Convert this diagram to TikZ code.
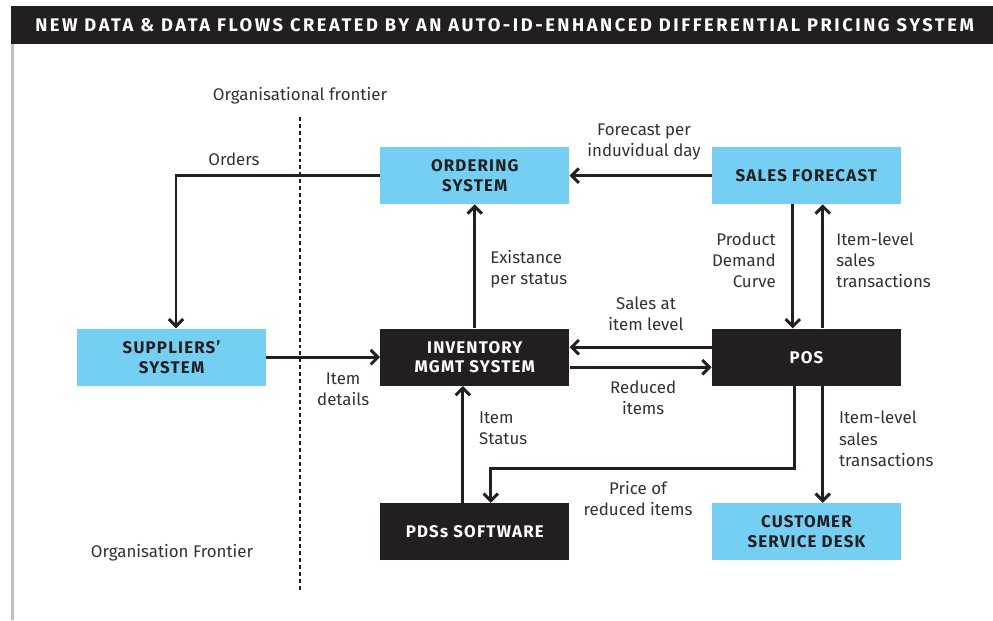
\documentclass[tikz,border=0pt]{standalone}
\usepackage{fontspec}
\setmainfont{Fira Sans}
\newfontfamily\cajafont[LetterSpace=7]{Fira Sans}
\newfontfamily\titulofont[LetterSpace=14]{Fira Sans}
\usetikzlibrary{positioning,arrows.meta,calc}
\definecolor{celeste}{RGB}{116,207,243}
\definecolor{negro}{RGB}{35,31,32}
\definecolor{gristexto}{RGB}{51,48,49}
\definecolor{gris}{RGB}{192,192,192}

\begin{document}
\begin{tikzpicture}[
  caja/.style={fill=#1, minimum width=4.725cm, minimum height=1.425cm,
    inner sep=2pt, align=center,
    font=\cajafont\bfseries\fontsize{12}{14}\selectfont},
  clara/.style={caja=celeste, text=negro},
  oscura/.style={caja=negro, text=white},
  etiqueta/.style={text=gristexto, inner sep=0pt,
    font=\fontsize{12}{15}\selectfont},
  flujo/.style={draw=negro, line width=2.1pt,
    -{Straight Barb[length=1.8mm,width=3.6mm]}},
  frontera/.style={draw=negro, line width=1.8pt, dash pattern=on 2.8pt off 2.1pt}
]
\useasboundingbox (0,0) rectangle (24.825,-15.5);
% Cabecera
\fill[negro] (0.275,-0.15) rectangle (24.825,-1.1);
\fill[gris] (0.275,-1.1) rectangle (0.35,-15.5);
\node[text=white, anchor=west, inner sep=0pt,
  font=\titulofont\bfseries\fontsize{13}{15}\selectfont] (titulo) at (0.875,-0.625)
  {NEW DATA \& DATA FLOWS CREATED BY AN AUTO-ID-ENHANCED DIFFERENTIAL PRICING SYSTEM};
% Sistemas
\node[clara] (ord) at (11.87,-4.39) {ORDERING\\SYSTEM};
\node[clara] (ven) at (20.16,-4.39) {SALES FORECAST};
\node[clara] (sup) at (4.29,-8.93) {SUPPLIERS’\\SYSTEM};
\node[oscura] (inv) at (11.87,-8.93) {INVENTORY\\MGMT SYSTEM};
\node[oscura] (pos) at (20.16,-8.93) {POS};
\node[oscura] (pds) at (11.87,-13.29) {PDSs SOFTWARE};
\node[clara] (mesa) at (20.16,-13.29) {CUSTOMER\\SERVICE DESK};
% Frontera
\coordinate (fa) at (7.5,-2.93);
\coordinate (fb) at (7.5,-14.75);
\draw[frontera] (fa) -- (fb);
\node[etiqueta] (lfront) at (7.5,-2.4) {Organisational frontier};
\node[etiqueta] (lorg) at (4.3,-13.83) {Organisation Frontier};
% Flujos
\draw[flujo] (ord.west) -| ($(sup.north)+(0.11,0)$);
\draw[flujo] (ven.west) -- (ord.east);
\draw[flujo] (inv.north) -- (ord.south);
\draw[flujo] (sup.east) -- (inv.west);
\draw[flujo] ($(pos.west)+(0,0.25)$) -- ($(inv.east)+(0,0.25)$);
\draw[flujo] ($(inv.east)+(0,-0.25)$) -- ($(pos.west)+(0,-0.25)$);
\draw[flujo] ($(ven.south)+(-0.34,0)$) -- ($(pos.north)+(-0.34,0)$);
\draw[flujo] ($(pos.north)+(0.41,0)$) -- ($(ven.south)+(0.41,0)$);
\draw[flujo] ($(pos.south)+(0.41,0)$) -- ($(mesa.north)+(0.41,0)$);
\draw[flujo] ($(pos.south)+(-0.29,0)$) -- ++(0,-2.06) -| ($(pds.north)+(0.4,0)$);
\draw[flujo] ($(pds.north)+(-0.3,0)$) -- ($(inv.south)+(-0.3,0)$);
% Etiquetas
\node[etiqueta] (lpedidos) at (5.85,-3.98) {Orders};
\node[etiqueta, align=center] (lprevision) at (16.1,-3.54) {Forecast per\\induvidual day};
\node[etiqueta, align=left, anchor=west] (lexist) at (12.25,-6.73) {Existance\\per status};
\node[etiqueta, align=center] (ldetalles) at (8.58,-9.74) {Item\\details};
\node[etiqueta, align=center] (lventas) at (16.15,-7.84) {Sales at\\item level};
\node[etiqueta, align=center] (lreducidos) at (16.08,-9.94) {Reduced\\items};
\node[etiqueta, align=right, anchor=east] (lcurva) at (19.4,-6.5) {Product\\Demand\\Curve};
\node[etiqueta, align=left, anchor=west] (ltrans) at (20.9,-6.5) {Item-level\\sales\\transactions};
\node[etiqueta, align=left, anchor=west] (ltrans2) at (20.97,-10.97) {Item-level\\sales\\transactions};
\node[etiqueta, align=left, anchor=west] (lestado) at (11.97,-10.7) {Item\\Status};
\node[etiqueta, align=center] (lprecio) at (15.95,-12.46) {Price of\\reduced items};
\end{tikzpicture}
\end{document}
